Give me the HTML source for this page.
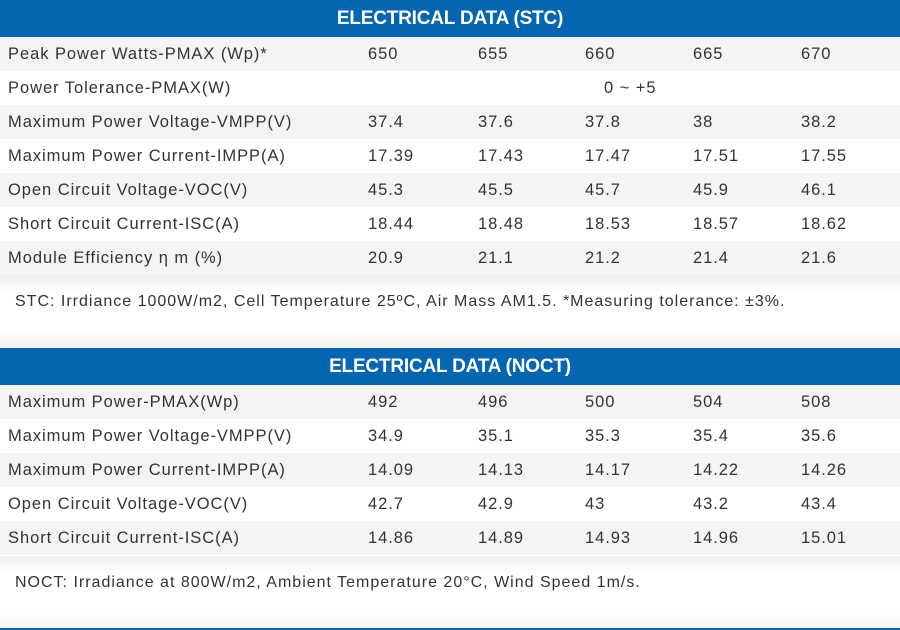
<!DOCTYPE html>
<html><head><style>
body{margin:0;width:900px;height:630px;background:#fff;font-family:"Liberation Sans",sans-serif;color:#333;position:relative;overflow:hidden}
.h{position:absolute;left:0;width:900px;height:37px;background:#0466b0;color:#fff;font-weight:bold;font-size:19px;text-align:center;line-height:37px;letter-spacing:-0.2px}
.r{position:absolute;left:0;width:900px;height:34px;font-size:16.5px;line-height:34px;letter-spacing:0.95px}
.g{background:#f4f4f4}
.r span{position:absolute;top:0}
.l{left:8px}
.c1{left:368px}.c2{left:478px}.c3{left:585px}.c4{left:693px}.c5{left:801px}
.n{position:absolute;left:0;width:900px;font-size:16px;line-height:20px;letter-spacing:1px;background:linear-gradient(#eee,#fff 25%,#fff 80%,#f3f3f3)}
.n span{position:absolute;left:15px}
</style></head><body>
<div class="h" style="top:0">ELECTRICAL DATA (STC)</div>
<div class="r g" style="top:37px"><span class="l">Peak Power Watts-PMAX (Wp)*</span><span class="c1">650</span><span class="c2">655</span><span class="c3">660</span><span class="c4">665</span><span class="c5">670</span></div>
<div class="r" style="top:71px"><span class="l">Power Tolerance-PMAX(W)</span><span style="left:604px">0 ~ +5</span></div>
<div class="r g" style="top:105px"><span class="l">Maximum Power Voltage-VMPP(V)</span><span class="c1">37.4</span><span class="c2">37.6</span><span class="c3">37.8</span><span class="c4">38</span><span class="c5">38.2</span></div>
<div class="r" style="top:139px"><span class="l">Maximum Power Current-IMPP(A)</span><span class="c1">17.39</span><span class="c2">17.43</span><span class="c3">17.47</span><span class="c4">17.51</span><span class="c5">17.55</span></div>
<div class="r g" style="top:173px"><span class="l">Open Circuit Voltage-VOC(V)</span><span class="c1">45.3</span><span class="c2">45.5</span><span class="c3">45.7</span><span class="c4">45.9</span><span class="c5">46.1</span></div>
<div class="r" style="top:207px"><span class="l">Short Circuit Current-ISC(A)</span><span class="c1">18.44</span><span class="c2">18.48</span><span class="c3">18.53</span><span class="c4">18.57</span><span class="c5">18.62</span></div>
<div class="r g" style="top:241px"><span class="l">Module Efficiency η m (%)</span><span class="c1">20.9</span><span class="c2">21.1</span><span class="c3">21.2</span><span class="c4">21.4</span><span class="c5">21.6</span></div>
<div class="n" style="top:275px;height:72px"><span style="top:17px">STC: Irrdiance 1000W/m2, Cell Temperature 25ºC, Air Mass AM1.5. *Measuring tolerance: ±3%.</span></div>
<div class="h" style="top:348px">ELECTRICAL DATA (NOCT)</div>
<div class="r g" style="top:385px"><span class="l">Maximum Power-PMAX(Wp)</span><span class="c1">492</span><span class="c2">496</span><span class="c3">500</span><span class="c4">504</span><span class="c5">508</span></div>
<div class="r" style="top:419px"><span class="l">Maximum Power Voltage-VMPP(V)</span><span class="c1">34.9</span><span class="c2">35.1</span><span class="c3">35.3</span><span class="c4">35.4</span><span class="c5">35.6</span></div>
<div class="r g" style="top:453px"><span class="l">Maximum Power Current-IMPP(A)</span><span class="c1">14.09</span><span class="c2">14.13</span><span class="c3">14.17</span><span class="c4">14.22</span><span class="c5">14.26</span></div>
<div class="r" style="top:487px"><span class="l">Open Circuit Voltage-VOC(V)</span><span class="c1">42.7</span><span class="c2">42.9</span><span class="c3">43</span><span class="c4">43.2</span><span class="c5">43.4</span></div>
<div class="r g" style="top:521px"><span class="l">Short Circuit Current-ISC(A)</span><span class="c1">14.86</span><span class="c2">14.89</span><span class="c3">14.93</span><span class="c4">14.96</span><span class="c5">15.01</span></div>
<div class="n" style="top:556px;height:72px"><span style="top:17px">NOCT: Irradiance at 800W/m2, Ambient Temperature 20°C, Wind Speed 1m/s.</span></div>
<div style="position:absolute;top:628px;left:0;width:900px;height:2px;background:#0466b0"></div>
</body></html>
